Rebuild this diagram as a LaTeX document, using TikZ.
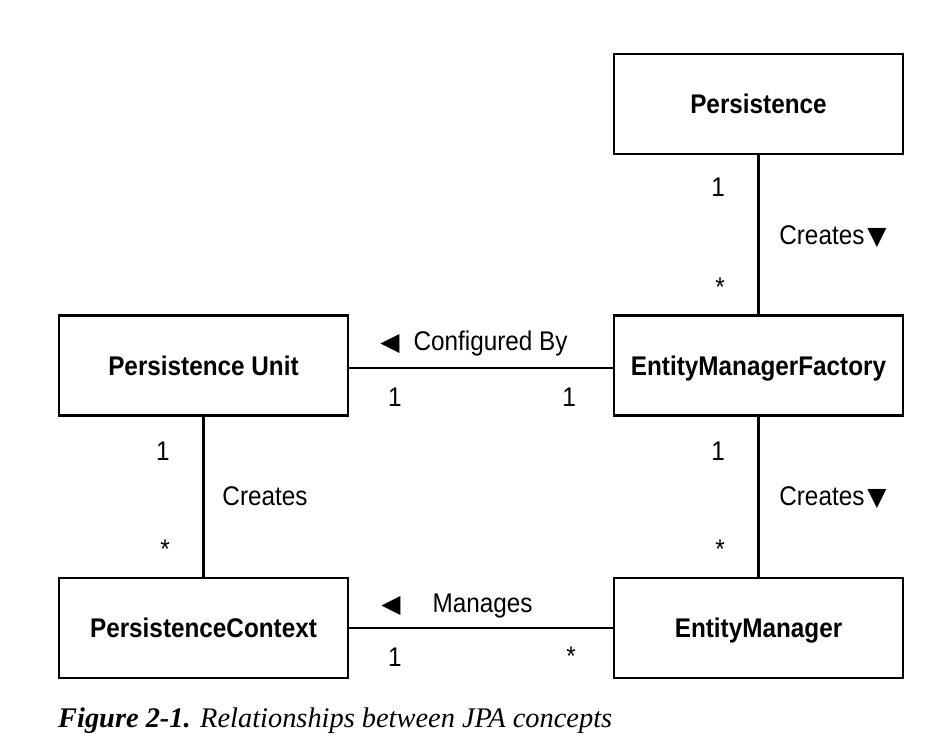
\documentclass[tikz,border=0pt]{standalone}
\usepackage{fontspec}
\setmainfont{Liberation Sans}[FakeStretch=0.9]
\newfontfamily\capfont{Liberation Serif}
\newfontfamily\symfont{DejaVu Sans}
\newcommand{\tridown}{{\symfont\fontsize{25}{28}\selectfont ▼}}
\newcommand{\trileft}{{\symfont\fontsize{25}{28}\selectfont ◀}}
\begin{document}
\begin{tikzpicture}[x=1pt,y=-1pt,
  cls/.style={draw, line width=2.2pt, minimum width=289pt, minimum height=100pt,
    inner sep=0pt, text height=19pt, text depth=0pt,
    font=\fontsize{27}{30}\selectfont\bfseries},
  lbl/.style={inner sep=0pt, anchor=base, font=\fontsize{27}{30}\selectfont},
  conn/.style={line width=2.2pt}]
\useasboundingbox (0,0) rectangle (947,755);
% classes
\node[cls] (pers) at (758.5,104) {Persistence};
\node[cls] (emf)  at (758.5,365.5) {EntityManagerFactory};
\node[cls] (pu)   at (203.5,365.5) {Persistence Unit};
\node[cls] (pc)   at (203.5,628) {PersistenceContext};
\node[cls] (em)   at (758.5,628) {EntityManager};
% connectors
\draw[conn] (pers) -- (emf);
\draw[conn] (emf) -- (em);
\draw[conn] (pu) -- (pc);
\draw[conn] ([yshift=-2.5pt]pu.east) -- ([yshift=-2.5pt]emf.west);
\draw[conn] (pc) -- (em);
% labels: Persistence - EMF
\node[lbl] (m1) at (718,196) {1};
\node[lbl] (m2) at (720,296) {*};
\node[lbl] (l1) at (833,244.5) {Creates\hspace{3pt}\tridown};
% EMF - EM
\node[lbl] (m3) at (718,460) {1};
\node[lbl] (m4) at (720,558) {*};
\node[lbl] (l2) at (833,505.5) {Creates\hspace{3pt}\tridown};
% PU - PC
\node[lbl] (m5) at (163,460) {1};
\node[lbl] (m6) at (165,558) {*};
\node[lbl] (l3) at (265,505) {Creates};
% PU - EMF
\node[lbl] (l4) at (474,350.5) {\trileft\hspace{14pt}Configured By};
\node[lbl] (m7) at (395,406) {1};
\node[lbl] (m8) at (569,406) {1};
% PC - EM
\node[lbl] (l5) at (457,612) {\trileft\hspace{32pt}Manages};
\node[lbl] (m9) at (395,666) {1};
\node[lbl] (m10) at (571,665) {*};
% caption
\node[anchor=base west, inner sep=0pt, font=\capfont\fontsize{28.4}{32}\selectfont] (cap) at (58,727)
  {\textbf{\textit{Figure 2-1.}} \textit{Relationships between JPA concepts}};
\end{tikzpicture}
\end{document}
